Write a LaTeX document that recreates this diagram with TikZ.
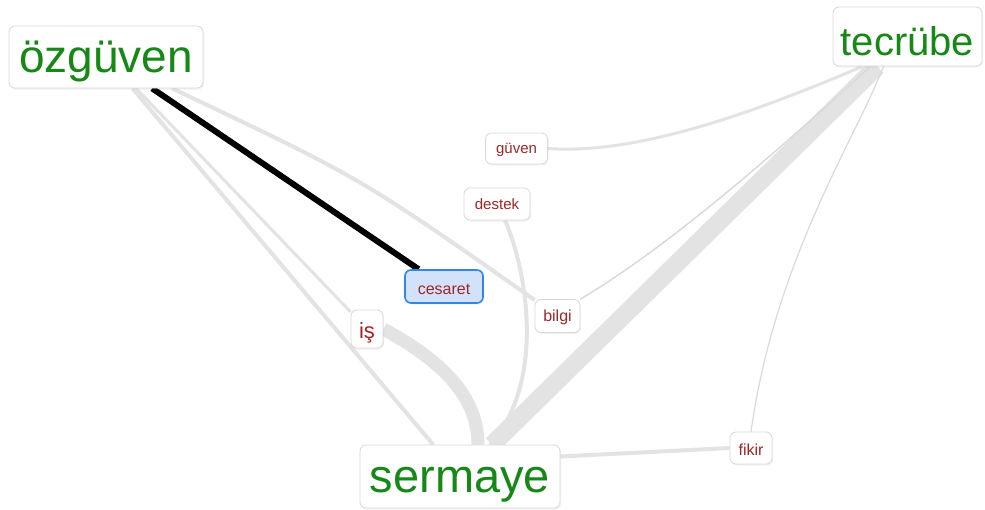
\documentclass[tikz,border=0pt]{standalone}
\usepackage{fontspec}
\setmainfont{Liberation Sans}
\usetikzlibrary{shadows,backgrounds}
\definecolor{tgreen}{RGB}{22,136,22}
\definecolor{tred}{RGB}{158,38,38}
\definecolor{edgegrey}{RGB}{227,227,227}
\definecolor{thinedge}{RGB}{218,218,218}
\definecolor{boxline}{RGB}{216,216,216}
\definecolor{selfill}{RGB}{210,226,250}
\definecolor{selline}{RGB}{50,135,225}
\begin{document}
\begin{tikzpicture}[x=1pt,y=-1pt,
  box/.style={draw=boxline, line width=0.8pt, fill=white, rounded corners=6pt, inner sep=0pt,
    drop shadow={opacity=0.10, shadow xshift=1pt, shadow yshift=-1.5pt}},
  big/.style={box, text=tgreen},
  small/.style={box, text=tred, font=\fontsize{16}{16}\selectfont, text depth=0pt},
  sel/.style={small, fill=selfill, draw=selline, line width=1.6pt},
  link/.style={draw=edgegrey, line width=4pt},
]
\useasboundingbox (0,0) rectangle (985,509);

% nodes
\node[big, font=\fontsize{46}{46}\selectfont, text height=41pt, text depth=10pt, minimum width=194pt, minimum height=62pt] (oz) at (106,57) {özgüven};
\node[big, font=\fontsize{40}{40}\selectfont, text height=37pt, text depth=0pt, minimum width=149pt, minimum height=59pt] (tec) at (907.5,36.5) {tecrübe};
\node[big, font=\fontsize{47}{47}\selectfont, text height=41pt, text depth=10pt, minimum width=200pt, minimum height=63pt] (ser) at (460,476.5) {sermaye};
\node[small, font=\fontsize{15}{15}\selectfont, text height=10pt, minimum width=62pt, minimum height=31pt] (guv) at (516.5,148.5) {güven};
\node[small, font=\fontsize{15}{15}\selectfont, text height=11pt, minimum width=66pt, minimum height=32pt] (des) at (497,204) {destek};
\node[sel, text height=15pt, minimum width=78pt, minimum height=33pt] (ces) at (444,286.5) {cesaret};
\node[small, text height=11.5pt, minimum width=45pt, minimum height=33pt] (bil) at (557.5,316) {bilgi};
\node[small, font=\fontsize{22}{22}\selectfont, text height=24pt, text depth=4.6pt, minimum width=32pt, minimum height=38pt] (is) at (367,329) {iş};
\node[small, text height=14pt, minimum width=42pt, minimum height=32pt] (fik) at (751,448) {fikir};

% connectors
\begin{pgfonlayer}{background}
\fill[white] (0,0) rectangle (985,509);
\draw[link] (oz) .. controls (361,178) .. (bil);
\draw[link, line width=3pt] (oz) -- (is);
\draw[link] (oz) -- (ser);
\draw[link, line width=13pt] (is.east) .. controls (440,360) and (478,395) .. ([xshift=18pt]ser.north);
\draw[link] ([xshift=8pt]des.south) .. controls (525,265) and (548,380) .. ([xshift=30pt]ser.north);
\draw[link, line width=18pt] (tec) -- (ser);
\draw[draw=thinedge, line width=1.5pt] ([xshift=-37pt]tec.south) .. controls (800,130) and (680,240) .. (bil.north east);
\draw[link, line width=3pt] ([xshift=-45pt]tec.south) .. controls (760,110) and (640,155) .. (guv.east);
\draw[draw=thinedge, line width=1.2pt] ([xshift=-24pt]tec.south) .. controls (855,140) and (775,260) .. (fik.north);
\draw[link] ([yshift=20pt]ser.east) -- (fik.west);
\draw[line width=6pt, black] (oz) -- (ces);
\end{pgfonlayer}
\end{tikzpicture}
\end{document}
